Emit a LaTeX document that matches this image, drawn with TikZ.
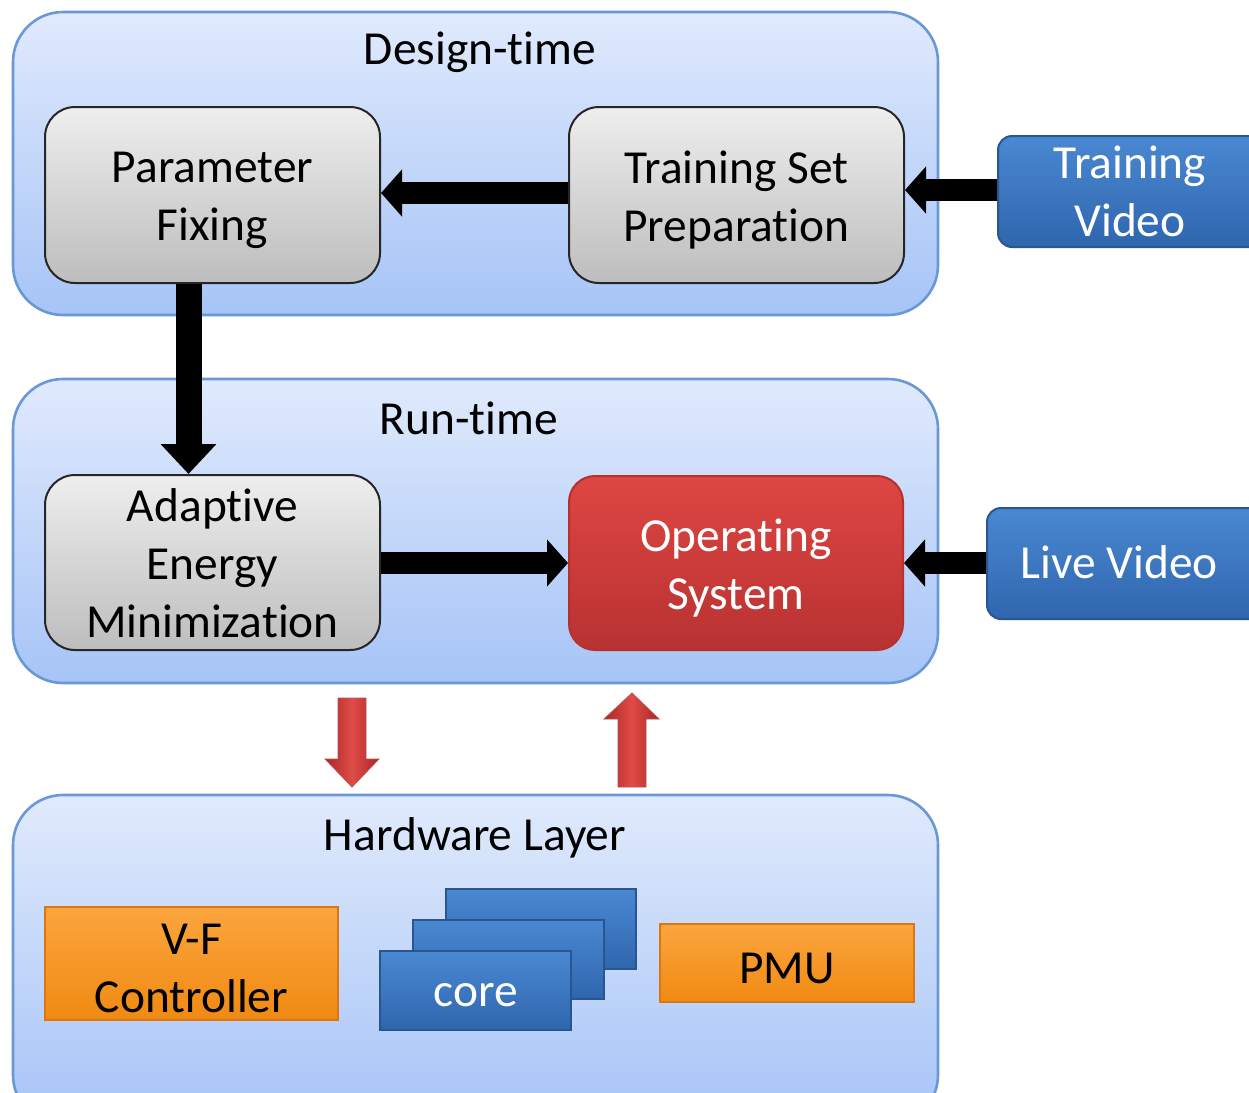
\documentclass[tikz,border=0pt]{standalone}
\usepackage{fontspec}
\setmainfont{Carlito}[Ligatures=NoCommon]
\usetikzlibrary{arrows.meta,fit}
\definecolor{contB}{HTML}{6A98D6}
\definecolor{contT}{HTML}{E0EAFC}
\definecolor{contBot}{HTML}{A6C4F7}
\definecolor{grayT}{HTML}{EEEEEE}
\definecolor{grayB}{HTML}{BDBDBD}
\definecolor{redT}{HTML}{DE4642}
\definecolor{redB}{HTML}{B83232}
\definecolor{redE}{HTML}{B8302C}
\definecolor{bluT}{HTML}{4A88D2}
\definecolor{bluB}{HTML}{2F66AE}
\definecolor{bluE}{HTML}{2A5690}
\definecolor{orT}{HTML}{FBA53E}
\definecolor{orB}{HTML}{F08A12}
\definecolor{orE}{HTML}{DC7612}
\definecolor{arD}{HTML}{A82626}
\definecolor{arL}{HTML}{E04C48}
\begin{document}
\begin{tikzpicture}[x=0.5pt,y=-0.5pt,
  bigfont/.style={font=\fontsize{23.7}{29}\selectfont},
  container/.style={draw=contB, line width=1.3pt, rounded corners=25pt,
    top color=contT, bottom color=contBot, inner sep=0pt},
  graybox/.style={draw=black!85, line width=1pt, rounded corners=15pt,
    top color=grayT, bottom color=grayB, inner sep=0pt},
  redbox/.style={draw=redE, line width=1pt, rounded corners=13pt,
    top color=redT, bottom color=redB, inner sep=0pt},
  bluebox/.style={draw=bluE, line width=1pt, rounded corners=7pt,
    top color=bluT, bottom color=bluB, inner sep=0pt},
  corebox/.style={draw=bluE, line width=1pt,
    top color=bluT, bottom color=bluB, inner sep=0pt},
  orbox/.style={draw=orE, line width=1pt,
    top color=orT, bottom color=orB, inner sep=0pt},
  label/.style={bigfont, align=center, inner sep=0pt, yshift=-2.5pt},
  wlabel/.style={label, text=white},
  title/.style={anchor=base, bigfont},
  blkh/.style={line width=11pt, -{Triangle[width=23pt,length=10.5pt]}},
  blkv/.style={line width=13pt, -{Triangle[width=27pt,length=15pt]}},
  redarrow/.style={left color=arD, right color=arD, middle color=arL, draw=arD!80, line width=0.4pt}
]
\useasboundingbox (0,0) rectangle (1249,1093);
\fill[white] (0,0) rectangle (1249,1093);

% containers
\node[container, fit={(13,12)(938,315)}] (design) {};
\node[container, fit={(13,379)(938,683)}] (run) {};
\node[container, fit={(13,795)(938,1125)}] (hw) {};

\node[title] (tdesign) at (480,64) {Design-time};
\node[title] (trun) at (469,434) {Run-time};
\node[title] (thw) at (475,850) {Hardware Layer};

% design-time
\node[graybox, fit={(45,107)(380,283)}] (pf) {};
\node[label] (pft) at (pf.center) {Parameter\\Fixing};
\node[graybox, fit={(569,107)(904,283)}] (ts) {};
\node[label] (tst) at (ts.center) {Training Set\\Preparation};
\node[bluebox, fit={(998,136)(1290,247)}] (tv) {};
\node[wlabel] (tvt) at (1130,186) {Training\\Video};

% run-time
\node[graybox, fit={(45,475)(380,650)}] (aem) {};
\node[label, yshift=2pt] (aemt) at (aem.center) {Adaptive\\Energy\\Minimization};
\node[redbox, fit={(569,476)(903,650)}] (os) {};
\node[wlabel] (ost) at (os.center) {Operating\\System};
\node[bluebox, fit={(987,508)(1290,619)}] (lv) {};
\node[wlabel] (lvt) at (1119,557) {Live Video};

% black arrows
\draw[blkh] (ts.west |- 0,193) -- (pf.east |- 0,193);
\draw[blkh] (tv.west |- 0,190) -- (ts.east |- 0,190);
\draw[blkv] ([xshift=-12pt]pf.south) -- ([xshift=-12pt]aem.north);
\draw[blkh] (aem.east |- 0,563) -- (os.west |- 0,563);
\draw[blkh] (lv.west |- 0,563) -- (os.east |- 0,563);

% red block arrows
\path[redarrow] (338,698) -- (366,698) -- (366,759) -- (379,759) -- (352,787)
  -- (325,759) -- (338,759) -- cycle;
\path[redarrow] (618,787) -- (646,787) -- (646,719) -- (659,719) -- (632,693)
  -- (604,719) -- (618,719) -- cycle;

% hardware
\node[orbox, fit={(45,907)(338,1020)}] (vf) {};
\node[label] (vft) at (vf.center) {V-F\\Controller};
\node[corebox, fit={(446,889)(636,969)}] (c3) {};
\node[corebox, fit={(413,920)(604,999)}] (c2) {};
\node[corebox, fit={(380,951)(571,1030)}] (c1) {};
\node[wlabel] (c1t) at (c1.center) {core};
\node[orbox, fit={(660,924)(914,1002)}] (pmu) {};
\node[label] (pmut) at (pmu.center) {PMU};
\end{tikzpicture}
\end{document}
